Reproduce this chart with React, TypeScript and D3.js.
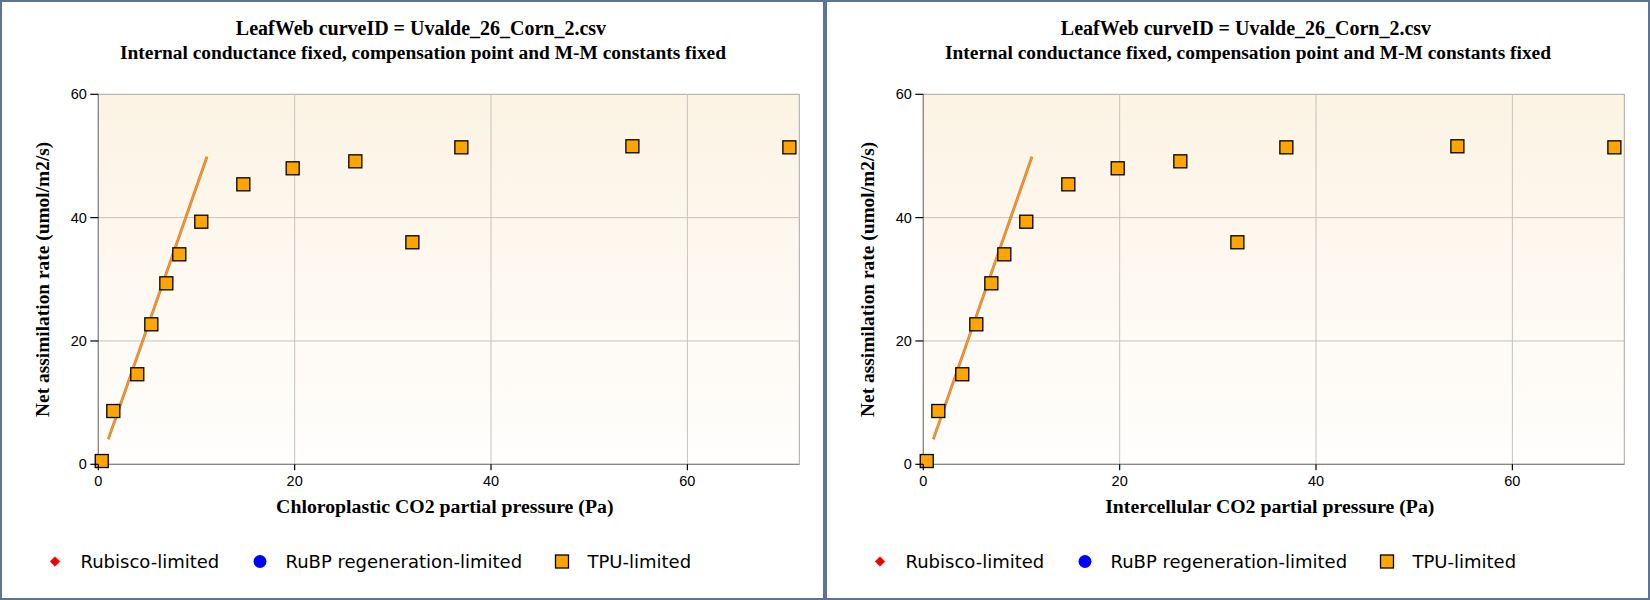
import React from "react";
import * as d3 from "d3";

const titleLine1 = "LeafWeb curveID = Uvalde_26_Corn_2.csv";
const titleLine2 = "Internal conductance fixed, compensation point and M-M constants fixed";
const xTitles = ["Chloroplastic CO2 partial pressure (Pa)", "Intercellular CO2 partial pressure (Pa)"];
const yTitle = "Net assimilation rate (umol/m2/s)";

const pointX = [0.35, 1.53, 3.97, 5.4, 6.93, 8.25, 10.49, 14.77, 19.8, 26.18, 31.99, 36.98, 54.4, 70.39];
const pointY = [0.53, 8.64, 14.6, 22.7, 29.35, 34.05, 39.34, 45.4, 48.0, 49.13, 36.0, 51.4, 51.57, 51.4];

const lineX = [1.02, 11.07];
const lineY = [4.05, 49.88];

const xTicks = [0, 20, 40, 60];
const yTicks = [0, 20, 40, 60];
const xDomain = [0, 71.4];
const yDomain = [0, 60];

const legendLabels = ["Rubisco-limited", "RuBP regeneration-limited", "TPU-limited"];

const PANEL_W = 825;
const H = 600;

function Panel({ offset, xTitle, idx }: { offset: number; xTitle: string; idx: number }) {
  const x = d3.scaleLinear().domain(xDomain).range([98.3, 799.3]);
  const y = d3.scaleLinear().domain(yDomain).range([464.3, 94.3]);
  const [x0, x1] = x.range();
  const [y0, y1] = y.range();
  const line = d3
    .line<number>()
    .x((d) => x(d))
    .y((_, i) => y(lineY[i]));
  const gradId = `bg${idx}`;
  const legendX = [55, 260, 562];
  const legendY = 561.5;
  const tickFont = "'Liberation Sans', Arial, sans-serif";
  const legendFont = "'DejaVu Sans', Verdana, sans-serif";
  const serif = "'Liberation Serif', 'Times New Roman', serif";
  return (
    <g transform={`translate(${offset},0)`}>
      <defs>
        <linearGradient id={gradId} x1="0" y1="0" x2="0" y2="1">
          <stop offset="0%" stopColor="#fcf3e4" />
          <stop offset="100%" stopColor="#fffefd" />
        </linearGradient>
      </defs>
      <rect x={1} y={1} width={PANEL_W - 2} height={H - 2} fill="#ffffff" stroke="#5d7495" strokeWidth={2} />
      <text x={421} y={35} textAnchor="middle" fontFamily={serif} fontWeight="bold" fontSize={20}>
        {titleLine1}
      </text>
      <text x={423} y={59} textAnchor="middle" fontFamily={serif} fontWeight="bold" fontSize={19.4}>
        {titleLine2}
      </text>
      <rect x={x0} y={y1} width={x1 - x0} height={y0 - y1} fill={`url(#${gradId})`} stroke="#a8a8a8" strokeWidth={1} />
      {xTicks
        .filter((t) => t > 0)
        .map((t) => (
          <line key={"gx" + t} x1={x(t)} x2={x(t)} y1={y1} y2={y0} stroke="#c6c3bd" strokeWidth={1} />
        ))}
      {yTicks
        .filter((t) => t > 0 && t < 60)
        .map((t) => (
          <line key={"gy" + t} x1={x0} x2={x1} y1={y(t)} y2={y(t)} stroke="#c6c3bd" strokeWidth={1} />
        ))}
      <line x1={x0} x2={x0} y1={y1} y2={y0} stroke="#888" strokeWidth={1.2} />
      <line x1={x0} x2={x1} y1={y0} y2={y0} stroke="#888" strokeWidth={1.2} />
      <path d={line(lineX) || ""} fill="none" stroke="#b8561a" strokeWidth={2.8} strokeOpacity={0.75} />
      <path d={line(lineX) || ""} fill="none" stroke="#ff9a10" strokeWidth={1.4} />
      {pointX.map((px, i) => (
        <rect
          key={"p" + i}
          x={x(px) - 6.5}
          y={y(pointY[i]) - 6.5}
          width={13}
          height={13}
          fill="#ffa500"
          stroke="#000"
          strokeWidth={1.3}
        />
      ))}
      {yTicks.map((t) => (
        <g key={"yt" + t}>
          <line x1={x0 - 8} x2={x0} y1={y(t)} y2={y(t)} stroke="#000" strokeWidth={1.2} />
          <text x={x0 - 11.5} y={y(t)} dy="0.35em" textAnchor="end" fontFamily={tickFont} fontSize={14.5}>
            {t}
          </text>
        </g>
      ))}
      {xTicks.map((t) => (
        <g key={"xt" + t}>
          <line x1={x(t)} x2={x(t)} y1={y0} y2={y0 + 6} stroke="#000" strokeWidth={1.2} />
          <text x={x(t)} y={485.5} textAnchor="middle" fontFamily={tickFont} fontSize={14.5}>
            {t}
          </text>
        </g>
      ))}
      <text x={(x0 + x1) / 2 - 4} y={513} textAnchor="middle" fontFamily={serif} fontWeight="bold" fontSize={19.8}>
        {xTitle}
      </text>
      <text
        transform={`translate(49,${(y0 + y1) / 2}) rotate(-90)`}
        textAnchor="middle"
        fontFamily={serif}
        fontWeight="bold"
        fontSize={19.4}
      >
        {yTitle}
      </text>
      <path
        d={d3.symbol(d3.symbolDiamond2, 60)() || ""}
        transform={`translate(${legendX[0]},${legendY})`}
        fill="#ee0000"
        stroke="#c00"
        strokeWidth={0.5}
      />
      <circle cx={legendX[1]} cy={legendY} r={6.5} fill="#0000ff" />
      <rect x={legendX[2] - 6.5} y={legendY - 6.5} width={13} height={13} fill="#ffa500" stroke="#000" strokeWidth={1.3} />
      {legendLabels.map((l, i) => (
        <text key={l} x={legendX[i] + 25.5} y={legendY} dy="0.36em" fontFamily={legendFont} fontSize={18}>
          {l}
        </text>
      ))}
    </g>
  );
}

export default function App() {
  return (
    <svg
      width={1650}
      height={600}
      style={{ position: "absolute", left: 0, top: 0, background: "#fff" }}
    >
      {xTitles.map((t, i) => (
        <Panel key={i} idx={i} offset={i * PANEL_W} xTitle={t} />
      ))}
    </svg>
  );
}
